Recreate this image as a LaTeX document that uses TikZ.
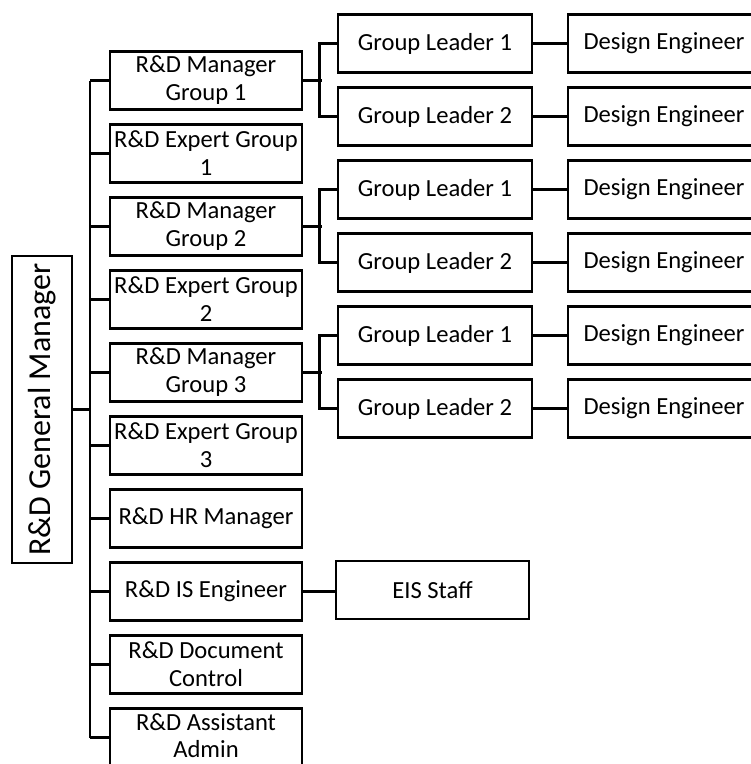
\documentclass[tikz,border=0pt]{standalone}
\usepackage{fontspec}
\setmainfont{Carlito}
\usepackage{graphicx}
\begin{document}
\begin{tikzpicture}[x=1pt,y=-1pt,
  box/.style={draw=black, line width=2.9pt, minimum width=192pt, minimum height=58pt,
    inner sep=0pt, align=center, font=\fontsize{24.6}{28}\selectfont},
  conn/.style={draw=black, line width=2.9pt}]
\useasboundingbox (0,0) rectangle (751,764);
\clip (0,0) rectangle (751,764);
\fill[white] (0,0) rectangle (751,764);
% general manager
\node[box, minimum width=60pt, minimum height=307pt] (gm) at (42,409.5)
  {\rotatebox{90}{\fontsize{32}{36}\selectfont R\&D General Manager}};
% level 1
\node[box] (m1) at (206,80.5) {R\&D Manager\\Group 1};
\node[box] (e1) at (206,153.5) {R\&D Expert Group\\1};
\node[box] (m2) at (206,226.5) {R\&D Manager\\Group 2};
\node[box] (e2) at (206,299.5) {R\&D Expert Group\\2};
\node[box] (m3) at (206,372.5) {R\&D Manager\\Group 3};
\node[box] (e3) at (206,445.5) {R\&D Expert Group\\3};
\node[box] (hr) at (206,518.5) {R\&D HR Manager};
\node[box] (is) at (206,591.5) {R\&D IS Engineer};
\node[box] (dc) at (206,664.5) {R\&D Document\\Control};
\node[box, font=\fontsize{24.6}{26.5}\selectfont] (aa) at (206,737.5) {R\&D Assistant\\Admin\rule[-4pt]{0pt}{4pt}};
% group leaders
\node[box, minimum width=194pt] (g11) at (435,43.5) {Group Leader 1};
\node[box, minimum width=194pt] (g12) at (435,116.5) {Group Leader 2};
\node[box, minimum width=194pt] (g21) at (435,189.5) {Group Leader 1};
\node[box, minimum width=194pt] (g22) at (435,262.5) {Group Leader 2};
\node[box, minimum width=194pt] (g31) at (435,335.5) {Group Leader 1};
\node[box, minimum width=194pt] (g32) at (435,408.5) {Group Leader 2};
% design engineers
\node[box] (d11) at (664,43.5) {Design Engineer};
\node[box] (d12) at (664,116.5) {Design Engineer};
\node[box] (d21) at (664,189.5) {Design Engineer};
\node[box] (d22) at (664,262.5) {Design Engineer};
\node[box] (d31) at (664,335.5) {Design Engineer};
\node[box] (d32) at (664,408.5) {Design Engineer};
% EIS staff
\node[box, minimum width=193pt] (eis) at (432.5,590) {EIS Staff};
% trunk
\coordinate (tt) at (90,80.5);
\coordinate (tb) at (90,737.5);
\draw[conn] (tt) -- (tb);
\draw[conn] (gm.east) -- (gm.east -| tt);
\foreach \n in {m1,e1,m2,e2,m3,e3,hr,is,dc,aa}
  \draw[conn] (\n.west) -- (\n.west -| tt);
% manager to group leaders
\foreach \m/\a/\b in {m1/g11/g12, m2/g21/g22, m3/g31/g32}{
  \draw[conn] (\m.east) -- ++(19,0);
  \draw[conn] (\a.west) -- ++(-17,0) |- (\b.west);
}
% group leaders to design engineers
\foreach \a/\b in {g11/d11, g12/d12, g21/d21, g22/d22, g31/d31, g32/d32}
  \draw[conn] (\a.east) -- (\b.west);
\draw[conn] (is.east) -- (is.east -| eis.west);
\end{tikzpicture}
\end{document}
